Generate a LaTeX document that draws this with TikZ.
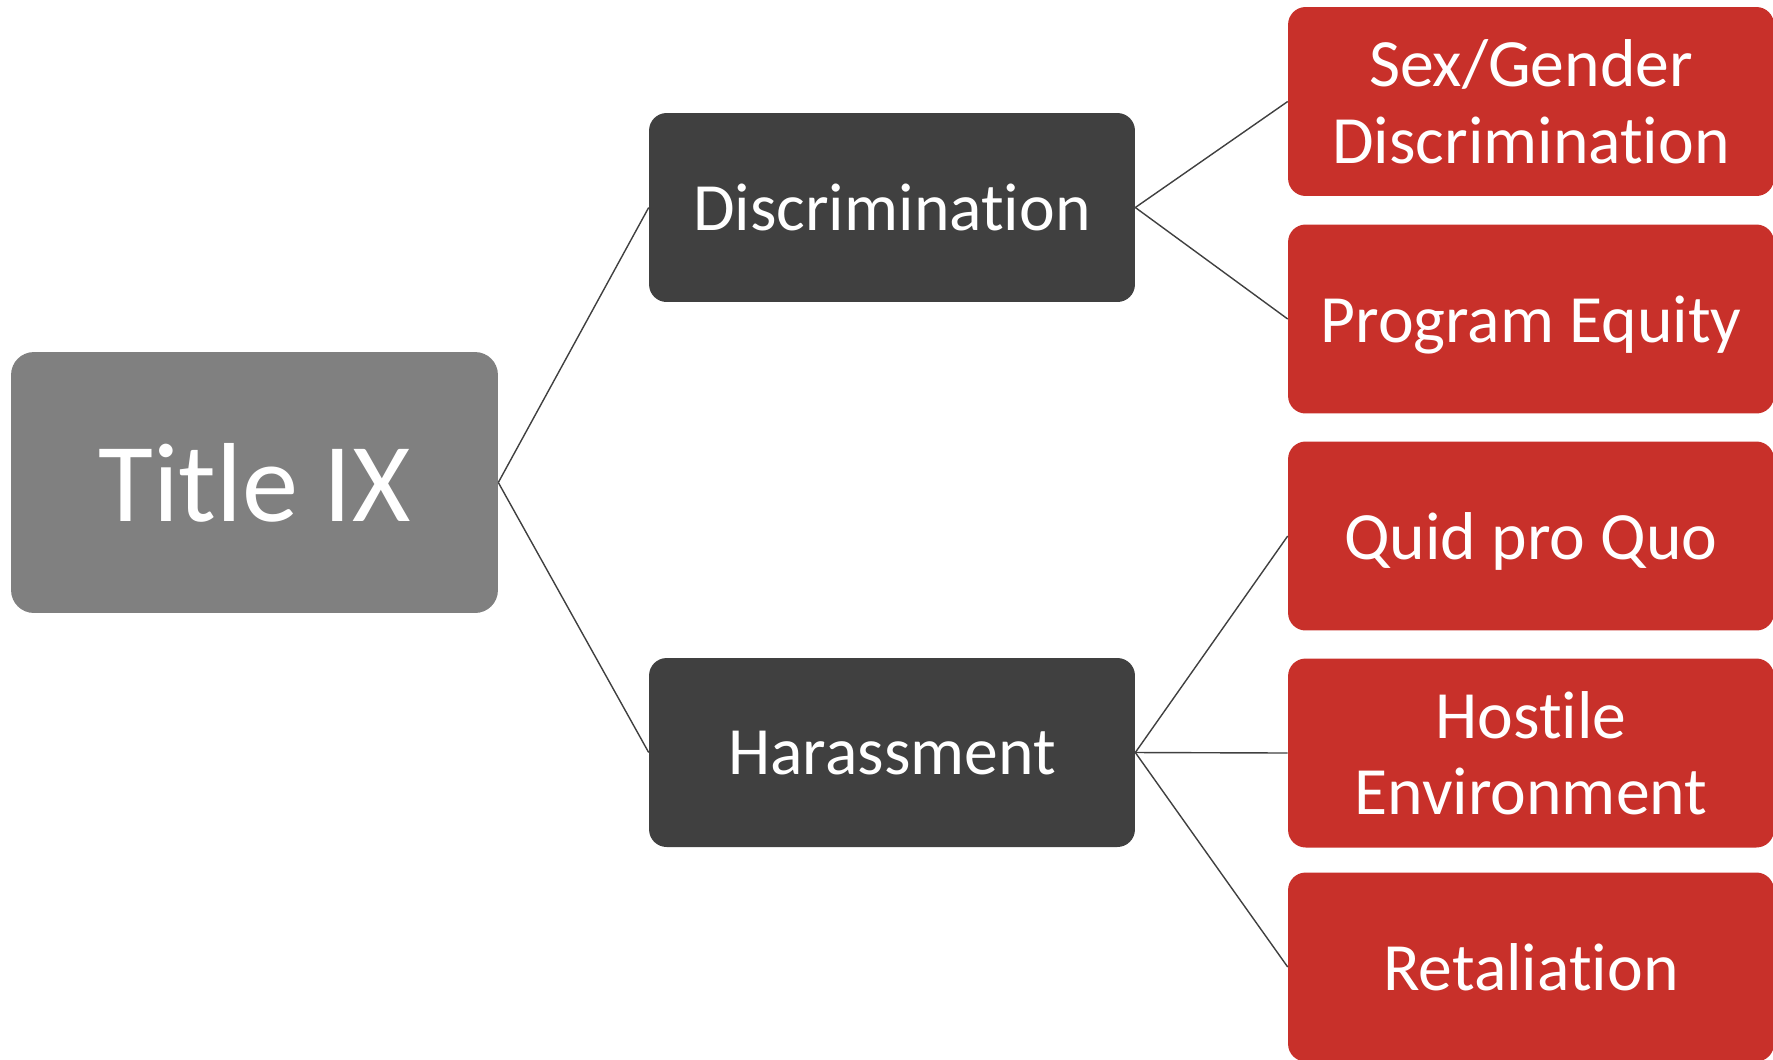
\documentclass[tikz,border=0pt]{standalone}
\usepackage{fontspec}
\setmainfont{Carlito}[Ligatures=NoCommon]
\usepackage{xcolor}

\definecolor{titlegray}{HTML}{808080}
\definecolor{topicgray}{HTML}{404040}
\definecolor{casered}{HTML}{C8302A}

\begin{document}
\begin{tikzpicture}[x=0.02cm,y=-0.02cm]
            \useasboundingbox (0,0) rectangle (1773,1059);
            \begin{scope}[every node/.style={rectangle,rounded corners=10pt,text=white,
                          inner sep=0pt,align=center,text depth=0pt,
                          minimum width=9.72cm,minimum height=3.78cm,
                          font=\fontsize{38.5pt}{43.5pt}\selectfont}]
                \node[fill=titlegray,rounded corners=13pt,minimum width=9.74cm,minimum height=5.22cm,
                      font=\fontsize{64pt}{74pt}\selectfont] (T) at (254.5,482.5) {Title IX};
                \node[fill=topicgray] (D) at (892,207.5) {Discrimination};
                \node[fill=topicgray] (H) at (892,752.5) {Harassment};
                \node[fill=casered] (S) at (1531,101.5) {Sex/Gender\\Discrimination};
                \node[fill=casered] (P) at (1531,319) {Program Equity};
                \node[fill=casered] (Q) at (1531,536) {Quid pro Quo};
                \node[fill=casered] (E) at (1531,753) {Hostile\\Environment};
                \node[fill=casered] (R) at (1531,967) {Retaliation};
            \end{scope}

            \begin{scope}[every edge/.style={draw=topicgray, line width=0.8pt}]
                \path (T.east) edge (D.west);
                \path (T.east) edge (H.west);
                \path (D.east) edge (S.west);
                \path (D.east) edge (P.west);
                \path (H.east) edge (Q.west);
                \path (H.east) edge (E.west);
                \path (H.east) edge (R.west);
            \end{scope}

            \end{tikzpicture}
\end{document}
